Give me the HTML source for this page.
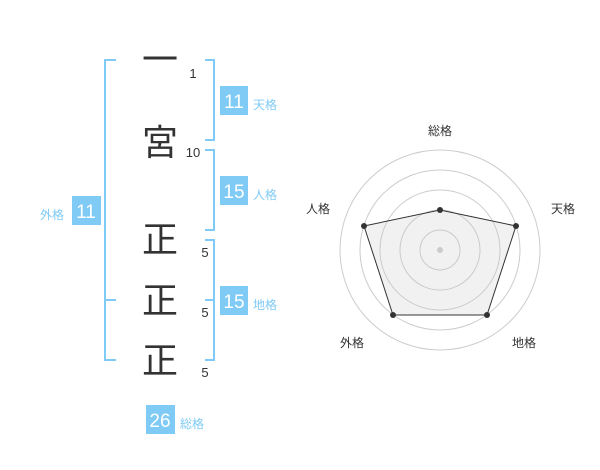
<!DOCTYPE html>
<html><head><meta charset="utf-8"><style>
html,body{margin:0;padding:0;background:#fff;width:600px;height:470px;overflow:hidden}
svg text{font-family:"Liberation Sans","Noto Sans CJK JP",sans-serif}
</style></head><body>
<svg width="600" height="470" viewBox="0 0 600 470" xmlns="http://www.w3.org/2000/svg">
<g stroke="#7fcbf5" stroke-width="2" fill="none">
<polyline points="116,60 105,60 105,360 116,360"/>
<line x1="105" y1="300" x2="116" y2="300"/>
<polyline points="205,60 214,60 214,140 205,140"/>
<polyline points="205,150 214,150 214,230 205,230"/>
<polyline points="205,240 214,240 214,360 205,360"/>
<line x1="205" y1="300" x2="214" y2="300"/>
</g>
<g fill="#333" font-size="36" text-anchor="middle">
<text x="160" y="72">一</text>
<text x="160" y="155">宮</text>
<text x="160" y="252">正</text>
<text x="160" y="313">正</text>
<text x="160" y="373">正</text>
</g>
<g fill="#333" font-size="13" text-anchor="middle">
<text x="193" y="78">1</text>
<text x="193" y="157">10</text>
<text x="205" y="257">5</text>
<text x="205" y="317">5</text>
<text x="205" y="377">5</text>
</g>
<g fill="#7fcbf5">
<rect x="220" y="86" width="28" height="29"/>
<rect x="220" y="176" width="28" height="29"/>
<rect x="220" y="286" width="28" height="29"/>
<rect x="72" y="196" width="29" height="29"/>
<rect x="146" y="405" width="29" height="29"/>
</g>
<g fill="#fff" font-size="19" text-anchor="middle">
<text x="234" y="108">11</text>
<text x="234" y="198">15</text>
<text x="234" y="308">15</text>
<text x="86" y="218">11</text>
<text x="160" y="427">26</text>
</g>
<g fill="#7fcbf5" font-size="12">
<text x="253" y="109">天格</text>
<text x="253" y="199">人格</text>
<text x="253" y="309">地格</text>
<text x="40" y="219">外格</text>
<text x="180" y="428">総格</text>
</g>
<g fill="none" stroke="#ccc" stroke-width="1">
<circle cx="440" cy="250" r="20"/>
<circle cx="440" cy="250" r="40"/>
<circle cx="440" cy="250" r="60"/>
<circle cx="440" cy="250" r="80"/>
<circle cx="440" cy="250" r="100"/>
</g>
<circle cx="440" cy="250" r="3" fill="#ccc"/>
<polygon points="440,210 516,226 487,315 393,315 364,226" fill="rgba(200,200,200,0.25)" stroke="#333" stroke-width="1"/>
<g fill="#333">
<circle cx="440" cy="210" r="3"/>
<circle cx="516" cy="226" r="3"/>
<circle cx="487" cy="315" r="3"/>
<circle cx="393" cy="315" r="3"/>
<circle cx="364" cy="226" r="3"/>
</g>
<g fill="#333" font-size="12" text-anchor="middle">
<text x="440" y="135">総格</text>
<text x="563" y="213">天格</text>
<text x="318" y="213">人格</text>
<text x="524" y="347">地格</text>
<text x="352" y="347">外格</text>
</g>
</svg>
</body></html>
